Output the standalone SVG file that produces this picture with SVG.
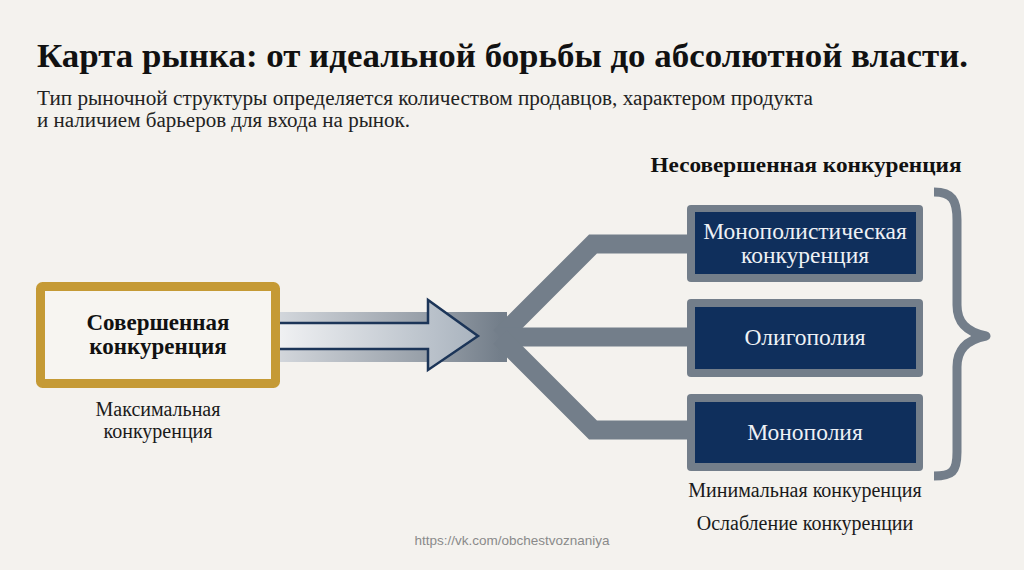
<svg xmlns="http://www.w3.org/2000/svg" width="1024" height="570" viewBox="0 0 1024 570">
<defs>
<linearGradient id="band" x1="278" y1="0" x2="500" y2="0" gradientUnits="userSpaceOnUse">
<stop offset="0" stop-color="#d3d7dc"/>
<stop offset="0.8" stop-color="#8a939d"/>
<stop offset="1" stop-color="#737e8a"/>
</linearGradient>
<linearGradient id="arr" x1="278" y1="0" x2="478" y2="0" gradientUnits="userSpaceOnUse">
<stop offset="0" stop-color="#f0f1f3"/>
<stop offset="1" stop-color="#a9b3be"/>
</linearGradient>
<style>
.serif{font-family:"Liberation Serif","DejaVu Serif",serif}
.title{font-size:33px;font-weight:bold;fill:#111}
.sub{font-size:20px;fill:#222}
.lbl{font-size:20px;fill:#1a1a1a}
.bold{font-weight:bold}
.boxt{font-size:23.5px;fill:#eef1f5}
.branch{fill:none;stroke:#737e8a;stroke-width:19;stroke-linejoin:miter}
.outer{fill:#737e8a}
.inner{fill:#0f2f5c}
</style>
</defs>
<rect width="1024" height="570" fill="#f4f2ee"/>
<text class="serif title" x="37" y="67" textLength="931" lengthAdjust="spacingAndGlyphs">Карта рынка: от идеальной борьбы до абсолютной власти.</text>
<text class="serif sub" x="37" y="105" textLength="776" lengthAdjust="spacingAndGlyphs">Тип рыночной структуры определяется количеством продавцов, характером продукта</text>
<text class="serif sub" x="37" y="127" textLength="373" lengthAdjust="spacingAndGlyphs">и наличием барьеров для входа на рынок.</text>
<g id="connectors">
<rect x="278" y="312" width="229" height="50" fill="url(#band)"/>
<polyline class="branch" points="500,337 593,244 700,244"/>
<line class="branch" x1="500" y1="337" x2="700" y2="337"/>
<polyline class="branch" points="500,337 593,430 700,430"/>
<polygon points="278,323 428,323 428,300 478,336 428,370 428,349 278,349" fill="url(#arr)" stroke="#1c3558" stroke-width="2.5" stroke-linejoin="miter"/>
</g>
<g id="perfect">
<rect x="40.5" y="286.5" width="235" height="97" rx="2" fill="#f7f5f1" stroke="#c59a35" stroke-width="9"/>
<text class="serif bold" x="158" y="330" text-anchor="middle" font-size="23" fill="#111">Совершенная</text>
<text class="serif bold" x="158" y="354" text-anchor="middle" font-size="23" fill="#111">конкуренция</text>
</g>
<g id="max-label">
<text class="serif lbl" x="158" y="416" text-anchor="middle">Максимальная</text>
<text class="serif lbl" x="158" y="438" text-anchor="middle">конкуренция</text>
</g>
<g id="imperfect-label">
<text class="serif bold" x="806" y="172" text-anchor="middle" font-size="21" fill="#111" textLength="311" lengthAdjust="spacingAndGlyphs">Несовершенная конкуренция</text>
</g>
<g id="monopolistic">
<rect class="outer" x="687" y="205" width="236" height="77" rx="4"/>
<rect class="inner" x="695" y="212" width="221" height="62"/>
<text class="serif boxt" x="805" y="239" text-anchor="middle">Монополистическая</text>
<text class="serif boxt" x="805" y="263" text-anchor="middle">конкуренция</text>
</g>
<g id="oligopoly">
<rect class="outer" x="687" y="299" width="236" height="78" rx="4"/>
<rect class="inner" x="695" y="307" width="221" height="62"/>
<text class="serif boxt" x="805" y="345" text-anchor="middle">Олигополия</text>
</g>
<g id="monopoly">
<rect class="outer" x="687" y="394" width="236" height="77" rx="4"/>
<rect class="inner" x="695" y="402" width="221" height="61"/>
<text class="serif boxt" x="805" y="440" text-anchor="middle">Монополия</text>
</g>
<g id="brace">
<path d="M934,192 C952,192 957,200 957,220 L957,305 C957,322 966,332 986,336 C966,340 957,350 957,367 L957,452 C957,472 952,476 934,476" fill="none" stroke="#737e8a" stroke-width="9" stroke-linejoin="round"/>
</g>
<g id="bottom-labels">
<text class="serif lbl" x="805" y="497" text-anchor="middle">Минимальная конкуренция</text>
<text class="serif lbl" x="805" y="530" text-anchor="middle">Ослабление конкуренции</text>
</g>
<text x="512" y="545" text-anchor="middle" font-family="Liberation Sans, Arial, sans-serif" font-size="13.5" fill="#8a8a8a">https://vk.com/obchestvoznaniya</text>
</svg>
